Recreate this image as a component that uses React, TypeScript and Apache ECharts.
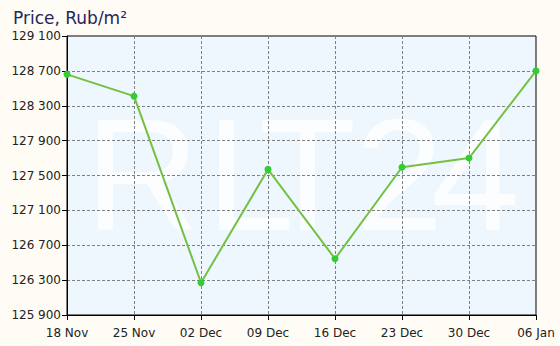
import React, { useEffect, useRef } from "react";
import * as echarts from "echarts";

const categories = ["18 Nov", "25 Nov", "02 Dec", "09 Dec", "16 Dec", "23 Dec", "30 Dec", "06 Jan"];
const prices = [128660, 128410, 126270, 127570, 126545, 127595, 127700, 128700];
const yMin = 125900;
const yMax = 129100;
const yStep = 400;
const titleText = "Price, Rub/m²";
const watermarkLetters = ["R", "L", "T", "2", "4"];
const watermarkX = [85, 206, 259, 355, 431];

function fmt(v: number): string {
  return String(Math.round(v)).replace(/\B(?=(\d{3})+(?!\d))/g, " ");
}

export default function App() {
  const ref = useRef<HTMLDivElement>(null);
  useEffect(() => {
    if (!ref.current) return;
    const chart = echarts.init(ref.current, null, { renderer: "svg" });
    const font = "'DejaVu Sans', Verdana, sans-serif";
    chart.setOption({
      animation: false,
      backgroundColor: "#fffcf5",
      title: {
        text: titleText,
        left: 8,
        top: 4,
        textStyle: { fontSize: 17, fontWeight: "normal", color: "#25255c", fontFamily: font },
      },
      grid: {
        left: 67,
        right: 24,
        top: 36,
        bottom: 31,
        show: true,
        backgroundColor: "#eef7fd",
        borderColor: "#000",
        borderWidth: 1,
        z: 0,
      },
      graphic: watermarkLetters.map((ch, i) => ({
        type: "text",
        z: 1,
        silent: true,
        x: watermarkX[i],
        y: 95,
        style: {
          text: ch,
          fontSize: 159,
          fontFamily: "'Liberation Sans', Arial, sans-serif",
          fill: "rgba(255,255,255,0.75)",
          verticalAlign: "top",
        },
      })),
      xAxis: {
        type: "category",
        data: categories,
        boundaryGap: false,
        z: 2,
        axisLine: { lineStyle: { color: "#000", width: 1 } },
        axisTick: { show: true, length: 5, alignWithLabel: true, lineStyle: { color: "#000" } },
        axisLabel: { color: "#222", fontSize: 12, fontFamily: font, margin: 12, interval: 0 },
        splitLine: { show: true, lineStyle: { color: "#808080", type: [3, 2], width: 1 } },
      },
      yAxis: {
        type: "value",
        min: yMin,
        max: yMax,
        interval: yStep,
        z: 2,
        axisLine: { show: true, lineStyle: { color: "#000", width: 1 } },
        axisTick: { show: true, length: 5, lineStyle: { color: "#000" } },
        axisLabel: { color: "#222", fontSize: 12, fontFamily: font, margin: 6, formatter: (v: number) => fmt(v) },
        splitLine: { show: true, lineStyle: { color: "#808080", type: [3, 2], width: 1 } },
      },
      series: [
        {
          type: "line",
          data: prices,
          z: 3,
          symbol: "circle",
          symbolSize: 7,
          lineStyle: { color: "#74c043", width: 2 },
          itemStyle: { color: "#33cc33" },
        },
      ],
    });
    return () => chart.dispose();
  }, []);
  return (
    <div
      ref={ref}
      style={{ position: "absolute", left: 0, top: 0, width: 560, height: 346, background: "#fffcf5" }}
    />
  );
}
